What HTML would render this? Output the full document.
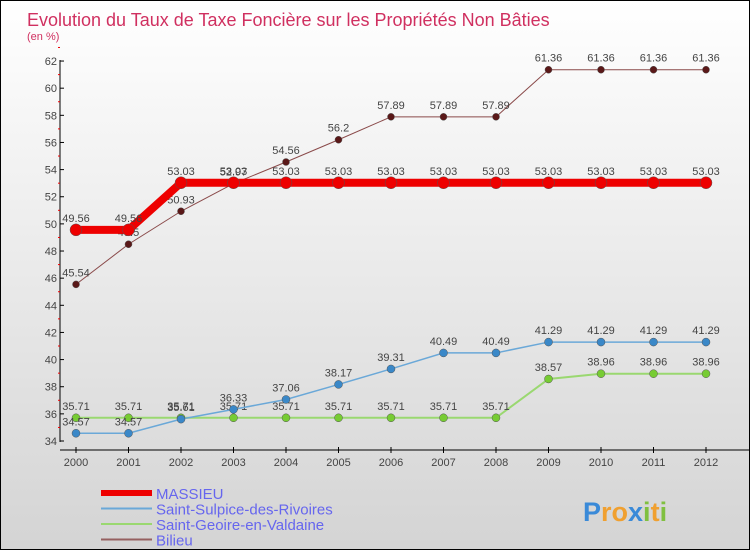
<!DOCTYPE html>
<html><head><meta charset="utf-8"><style>
body{margin:0}
#c{width:748px;height:548px;border:1px solid #000;background:linear-gradient(#fff,#d4d4d4);position:relative;font-family:"Liberation Sans",sans-serif;overflow:hidden}
</style></head><body>
<div id="c">
<svg id="s" width="748" height="548"></svg>
</div>
<script>
const years=[2000,2001,2002,2003,2004,2005,2006,2007,2008,2009,2010,2011,2012];
const massieu=[49.56,49.56,53.03,53.03,53.03,53.03,53.03,53.03,53.03,53.03,53.03,53.03,53.03];
const sulpice=[34.57,34.57,35.61,36.33,37.06,38.17,39.31,40.49,40.49,41.29,41.29,41.29,41.29];
const geoire=[35.71,35.71,35.71,35.71,35.71,35.71,35.71,35.71,35.71,38.57,38.96,38.96,38.96];
const bilieu=[45.54,48.5,50.93,52.97,54.56,56.2,57.89,57.89,57.89,61.36,61.36,61.36,61.36];
const yTicks=[34,36,38,40,42,44,46,48,50,52,54,56,58,60,62];
const NS='http://www.w3.org/2000/svg';
const s=document.getElementById('s');
const X=i=>75+i*52.5, Y=v=>440-(v-34)*13.57;
function el(t,a,p){const e=document.createElementNS(NS,t);for(const k in a)e.setAttribute(k,a[k]);(p||s).appendChild(e);return e;}
function txt(x,y,t,a,p){const e=el('text',Object.assign({x:x,y:y},a),p);e.textContent=t;return e;}
let e;
e=txt(26,25,'Evolution du Taux de Taxe Foncière sur les Propriétés Non Bâties',{fill:'#d03060','font-size':18});

e=txt(26,39,'(en %)',{fill:'#d03060','font-size':11});

e=el('line',{x1:59,y1:59,x2:59,y2:441,stroke:'#000'});
e=el('line',{x1:59,y1:449,x2:748,y2:449,stroke:'#000'});
yTicks.forEach(v=>{
 el('line',{x1:59,y1:Y(v),x2:63,y2:Y(v),stroke:'#000'});
 el('line',{x1:57,y1:Y(v+1),x2:59,y2:Y(v+1),stroke:'#e00'});
 e=txt(56,Y(v)+4,String(v),{'text-anchor':'end','font-size':11,fill:'#444'});
 
});
years.forEach((y,i)=>{
 el('line',{x1:X(i),y1:446,x2:X(i),y2:452,stroke:'#000'});
 e=txt(X(i),465,String(y),{'text-anchor':'middle','font-size':11,fill:'#444'});
 
});
function series(d,name,col,dot,w,r){
 const g=el('g',{});
 el('polyline',{points:d.map((v,i)=>X(i)+','+Y(v)).join(' '),fill:'none',stroke:col,'stroke-width':w},g);
 d.forEach((v,i)=>{
  const c=el('circle',{cx:X(i),cy:Y(v),r:r,fill:dot,stroke:'#555','stroke-width':0.5},g);
  
  const t=txt(X(i),Y(v)-8,String(v),{'text-anchor':'middle','font-size':11,fill:'#444'},g);
  
 });
}
series(geoire,'saint-geoire','#9ad870','#77cc33',2,4);
series(sulpice,'saint-sulpice','#6aa8d8','#3a88c8',1.5,4);
series(bilieu,'bilieu','#8a4a4a','#5a1818',1,3.5);
series(massieu,'massieu','#ee0000','#ee0000',8,6);
const leg=[['MASSIEU','#ee0000',6],['Saint-Sulpice-des-Rivoires','#6aa8d8',2],['Saint-Geoire-en-Valdaine','#9ad870',2],['Bilieu','#956060',2]];
leg.forEach((l,i)=>{
 const y=492+i*15.5;
 const g=el('g',{});
 el('line',{x1:100,y1:y,x2:151,y2:y,stroke:l[1],'stroke-width':l[2]},g);
 txt(155,y+6,l[0],{'font-size':15,fill:'#6666ee'},g);
});
const lg=el('text',{x:582,y:520,'font-size':27,'font-weight':'bold'});

[['P','#3a8ad8'],['ro','#f0a030'],['x','#3a8ad8'],['i','#80c040'],['t','#f0a030'],['i','#80c040']].forEach(p=>{const t=document.createElementNS(NS,'tspan');t.setAttribute('fill',p[1]);t.textContent=p[0];lg.appendChild(t);});
</script>
</body></html>
